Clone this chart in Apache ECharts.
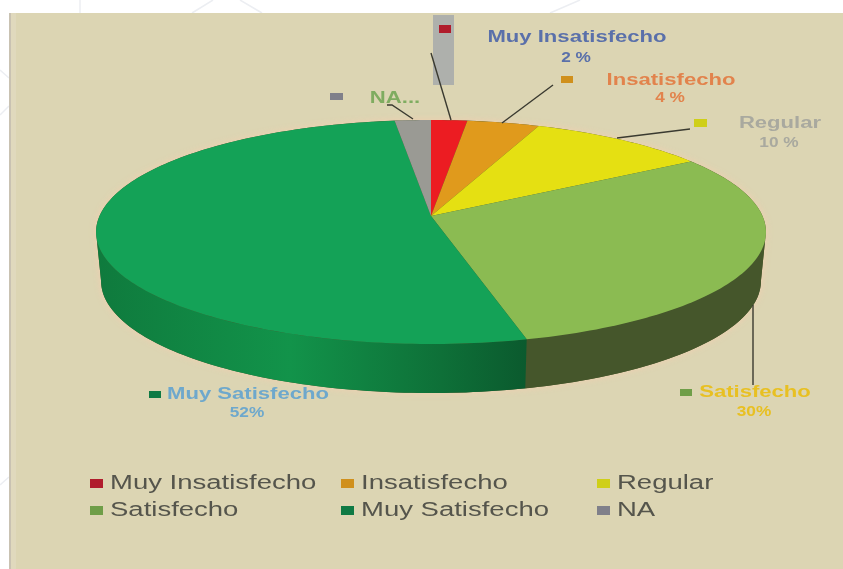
<!DOCTYPE html>
<html>
<head>
<meta charset="utf-8">
<style>
html,body{margin:0;padding:0;background:#fff;}
#c{width:843px;height:569px;filter:blur(0.5px);}
</style>
<script src="https://cdn.jsdelivr.net/npm/echarts@6/dist/echarts.min.js"></script>
</head>
<body>
<div id="c"></div>
<script>
const categories = ['Muy Insatisfecho','Insatisfecho','Regular','Satisfecho','Muy Satisfecho','NA'];
const percentages = [2, 4, 10, 30, 52, 2];
const sliceColors = ['#ec1c22','#e09a1c','#e5e012','#8bbb52','#14a257','#9a9a94'];
const swatchColors = ['#b01c2c','#d0901c','#cfcf18','#6f9e48','#0f7a44','#80808a'];
const labelColors = ['#5a70aa','#e2834c','#a9a99f','#e8c022','#6ea8cc','#7fac60'];

// Perspective projection of the tilted disc
const CX = 431, CY = 216, RX = 331.5, RY = 109.7, K = 0.143, DEPTH = 49, SHRINK = 0.985;
function project(theta, lower) {
  const s = Math.sin(theta), c = Math.cos(theta), d = 1 + K * c;
  return [
    CX + RX * (lower ? SHRINK : 1) * s / d,
    CY - RY * c / d + (lower ? DEPTH : 0)
  ];
}
function arc(a0, a1, lower) {
  const n = Math.max(2, Math.ceil((a1 - a0) / 0.02)), pts = [];
  for (let i = 0; i <= n; i++) pts.push(project(a0 + (a1 - a0) * i / n, lower));
  return pts;
}
const toAngle = pct => pct / 100 * 2 * Math.PI;
// The front of the wall runs between the two points where the rim is widest
const FRONT_A = Math.acos(-K), FRONT_B = 2 * Math.PI - FRONT_A;
const starts = percentages.map((_, i) => percentages.slice(0, i).reduce((a, b) => a + b, 0));

const wallFill = {
  3: '#45562b',
  4: {type:'linear',x:0,y:0,x2:1,y2:0,colorStops:[
    {offset:0,color:'#0f7a3d'},{offset:0.45,color:'#12934a'},{offset:0.8,color:'#0e7038'},{offset:1,color:'#0b5a2e'}]}
};

const haloSeries = {
  type:'custom', name:'halo', coordinateSystem:'none', z:0, silent:true,
  data:[[100]],
  renderItem(params, api) {
    const full = toAngle(api.value(0));
    const pts = arc(FRONT_A, FRONT_B, true).concat(arc(FRONT_B, full, false), arc(0, FRONT_A, false));
    return {type:'polygon', shape:{points:pts},
      style:{fill:'#45562b', shadowColor:'rgba(245,205,175,0.9)', shadowBlur:7}};
  }
};
const wallSeries = categories.map((name, i) => ({
  type:'custom', name:'wall-'+name, coordinateSystem:'none', z:1, silent:true,
  data:[[percentages[i], starts[i]]],
  renderItem(params, api) {
    const a0 = Math.max(toAngle(api.value(1)), FRONT_A);
    const a1 = Math.min(toAngle(api.value(1) + api.value(0)), FRONT_B);
    if (a1 <= a0) return null;
    const pts = arc(a0, a1, false).concat(arc(a0, a1, true).reverse());
    return {type:'polygon', shape:{points:pts}, style:{fill:wallFill[i] || sliceColors[i]}};
  }
}));
const topSeries = categories.map((name, i) => ({
  type:'custom', name, coordinateSystem:'none', z:3, silent:true,
  itemStyle:{color:swatchColors[i]},
  data:[[percentages[i], starts[i]]],
  renderItem(params, api) {
    const a0 = toAngle(api.value(1)), a1 = toAngle(api.value(1) + api.value(0));
    return {type:'polygon', shape:{points:[[CX,CY]].concat(arc(a0, a1, false))},
      style:{fill:sliceColors[i]}};
  }
}));

const F = '"Liberation Sans", Arial, sans-serif';
// Legend: 3 columns, 2 rows, stretched lettering like the reference
const legendCols = [90, 341, 597], legendRows = [479, 506];
const LEGEND_STRETCH = 1.41;
// Data labels
const NAME_STRETCH = 1.38, PCT_STRETCH = 1.15;
const labelLayout = [
  {x:577,y:38,y2:58,sw:[439,25,12,8],text2:percentages[0]+' %'},
  {x:671,y:81,y2:98,sw:[561,76,12,7],text2:percentages[1]+' %'},
  {x:780,y:124,y2:143,sw:[694,119,13,8],text2:percentages[2]+' %'},
  {x:755,y:393,y2:412,sw:[680,389,12,7],text2:percentages[3]+'%'},
  {x:248,y:395,y2:413,sw:[149,391,12,7],text2:percentages[4]+'%'},
  {x:395,y:99,sw:[330,93,13,7],name:'NA...'}
];
const leaders = [
  [[431,53],[451,120]],
  [[502,123],[553,85]],
  [[617,138],[690,129]],
  [[753,305],[753,385]],
  [[387,105],[392,105],[413,119]]
];
const g = [];
g.push({type:'rect',z:-20,shape:{x:9,y:13,width:834,height:556},style:{fill:'#dcd5b3'}});
g.push({type:'rect',z:-19,shape:{x:9,y:13,width:7,height:556},style:{fill:'#e0d9bd'}});
g.push({type:'rect',z:-19,shape:{x:9,y:13,width:2,height:556},style:{fill:'#c9c2b2'}});
[[[80,0],[80,13]],[[192,13],[213,0]],[[240,0],[262,13]],[[550,13],[580,0]],[[0,70],[9,78]],[[0,115],[9,106]],[[0,485],[9,477]]]
  .forEach(l => g.push({type:'polyline',z:-21,shape:{points:l},style:{stroke:'#eceef2',lineWidth:1.5,fill:null}}));
g.push({type:'rect',z:10,shape:{x:433,y:15,width:21,height:70},style:{fill:'#aeb0ac'}});
leaders.forEach(l => g.push({type:'polyline',z:11,shape:{points:l},
  style:{stroke:'#3a3a30',lineWidth:1.4,fill:null}}));
labelLayout.forEach((l, i) => {
  g.push({type:'rect',z:12,shape:{x:l.sw[0],y:l.sw[1],width:l.sw[2],height:l.sw[3]},style:{fill:swatchColors[i]}});
  g.push({type:'text',z:12,x:l.x,y:l.y,scaleX:NAME_STRETCH,style:{x:0,y:0,text:l.name || categories[i],fill:labelColors[i],
    font:'bold 16px '+F,align:'center',verticalAlign:'middle'}});
  if (l.text2) g.push({type:'text',z:12,x:l.x-1,y:l.y2,scaleX:PCT_STRETCH,style:{x:0,y:0,text:l.text2,fill:labelColors[i],
    font:'bold 15px '+F,align:'center',verticalAlign:'middle'}});
});
categories.forEach((name, i) => {
  const lx = legendCols[i % 3], ly = legendRows[Math.floor(i / 3)];
  g.push({type:'rect',z:12,shape:{x:lx,y:ly,width:13,height:9},style:{fill:swatchColors[i]}});
  g.push({type:'text',z:12,x:lx + 20,y:ly + 4.5,scaleX:LEGEND_STRETCH,style:{x:0,y:0,text:name,fill:'#55554c',
    font:'19.5px '+F,align:'left',verticalAlign:'middle'}});
});

const chart = echarts.init(document.getElementById('c'), null, {renderer:'canvas'});
chart.setOption({
  animation:false,
  backgroundColor:'#ffffff',
  graphic:{elements:g},
  series:[haloSeries].concat(wallSeries, topSeries)
});
</script>
</body>
</html>
